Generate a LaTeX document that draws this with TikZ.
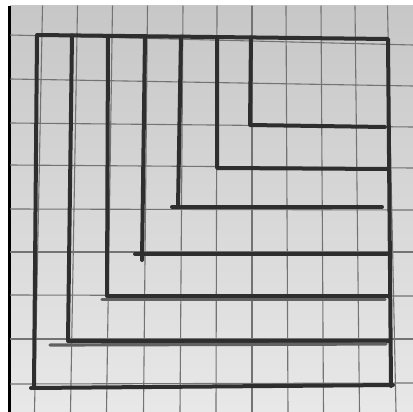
\documentclass[tikz,border=0pt]{standalone}
\begin{document}
\begin{tikzpicture}[x=0.1cm, y=-0.1cm, line cap=round, line join=round]
    \tikzset{gridline/.style={draw=black!55, line width=0.11cm},
             pencil/.style={draw=black!82, line width=0.4cm},
             faint/.style={draw=black!62, line width=0.32cm}}
    \useasboundingbox (0,0) rectangle (413,412);
    \fill[white] (0,0) rectangle (413,412);
    \shade[top color=black!22, bottom color=black!9] (10,6) rectangle (413,412);
    \fill[black] (8,6) rectangle (10.5,412);
    \foreach \a/\b in {42.5/34.5, 77.5/70.5, 112.5/106.5, 147.5/143.5, 183/180, 217/216, 252/252, 286/288, 321/323.5, 355/359.5, 387.5/396}
        \draw[gridline] (\a,6) -- (\b,412);
    \foreach \a/\b in {35/45, 79/86, 123/127, 165/168, 209/210, 252/252, 295/296, 339/339, 384/383}
        \draw[gridline] (10.5,\a) -- (413,\b);
    \coordinate (tl) at (37,35);
    \coordinate (tr) at (388,39);
    \coordinate (br) at (391,386);
    \coordinate (bl) at (34,388);
    \draw[pencil] (bl) -- (tl) -- (tr) -- (br);
    \draw[pencil] (31,388) -- (393,385);
    \draw[pencil] (72,35.4) -- (68,341) -- (390,341);
    \draw[faint] (50,345) -- (386,344);
    \draw[pencil] (108,35.8) -- (107,296) -- (388,296);
    \draw[faint] (102,299.5) -- (385,299.5);
    \draw[pencil] (145,36.2) -- (142,260);
    \draw[pencil] (135,254) -- (387,254);
    \draw[pencil] (181,36.6) -- (178,207);
    \draw[pencil] (172,207) -- (382,207);
    \draw[pencil] (217,37) -- (217,168) -- (388,169);
    \draw[pencil] (251,37.4) -- (250,125) -- (385,127);
\end{tikzpicture}
\end{document}
